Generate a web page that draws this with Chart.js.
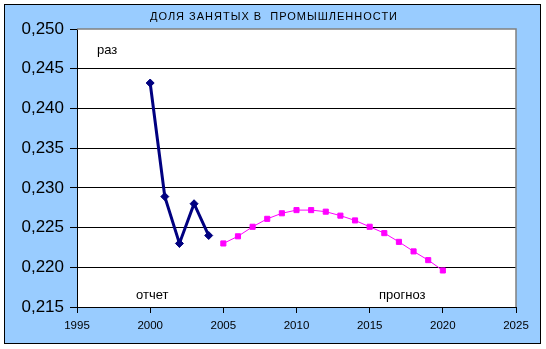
<!DOCTYPE html>
<html>
<head>
<meta charset="utf-8">
<script src="https://cdn.jsdelivr.net/npm/chart.js@4/dist/chart.umd.min.js"></script>
<style>
  body { margin: 0; background: #fff; }
  #chart { display: block; }
</style>
</head>
<body>
<canvas id="chart" width="546" height="349"></canvas>
<script>
// actual figures (отчет)
const reportYears = [2000, 2001, 2002, 2003, 2004];
const reportShare = [0.2432, 0.2289, 0.2230, 0.2280, 0.2240];

// forecast (прогноз)
const forecastYears = [2005, 2006, 2007, 2008, 2009, 2010, 2011, 2012, 2013, 2014, 2015, 2016, 2017, 2018, 2019, 2020];
const forecastShare = [0.2230, 0.2239, 0.2251, 0.2261, 0.2268, 0.2272, 0.2272, 0.2270, 0.2265, 0.2259, 0.2251, 0.2243, 0.2232, 0.2220, 0.2209, 0.2196];

const chartTitle = 'ДОЛЯ ЗАНЯТЫХ В  ПРОМЫШЛЕННОСТИ';
const notes = [
    { text: 'раз', x: 97, y: 50 },
    { text: 'отчет', x: 136, y: 295 },
    { text: 'прогноз', x: 379, y: 295 }
];

function toPoints(xs, ys) {
    return xs.map((x, i) => ({ x: x, y: ys[i] }));
}

const frame = {
    id: 'frame',
    beforeDraw(chart) {
        const c = chart.ctx;
        const a = chart.chartArea;
        c.save();
        c.fillStyle = '#fff';
        c.fillRect(0, 0, chart.width, chart.height);
        c.fillStyle = '#99CCFF';
        c.fillRect(4, 4, 536, 339);
        c.strokeStyle = '#000';
        c.lineWidth = 1;
        c.strokeRect(4.5, 4.5, 536, 339);
        c.fillStyle = '#fff';
        c.fillRect(a.left, a.top, a.right - a.left, a.bottom - a.top);
        c.restore();
    },
    afterDatasetsDraw(chart) {
        const c = chart.ctx;
        const a = chart.chartArea;
        c.save();
        c.strokeStyle = '#808080';
        c.lineWidth = 1.5;
        c.beginPath();
        c.moveTo(a.left, a.top);
        c.lineTo(a.right, a.top);
        c.lineTo(a.right, a.bottom);
        c.stroke();
        c.fillStyle = '#000';
        c.textBaseline = 'middle';
        // title, a bit letter-spaced like the original
        c.font = '11px "Liberation Sans", Arial, sans-serif';
        c.letterSpacing = '1px';
        c.textAlign = 'center';
        c.fillText(chartTitle, 274, 17);
        c.letterSpacing = '0px';
        c.font = '13px "Liberation Sans", Arial, sans-serif';
        c.textAlign = 'left';
        notes.forEach(n => c.fillText(n.text, n.x, n.y));
        c.restore();
    }
};

new Chart(document.getElementById('chart'), {
    type: 'line',
    data: {
        datasets: [{
            data: toPoints(reportYears, reportShare),
            borderColor: '#000080',
            backgroundColor: '#000080',
            borderWidth: 3,
            pointStyle: 'rectRot',
            pointRadius: 4,
            pointBorderWidth: 1,
            tension: 0
        }, {
            data: toPoints(forecastYears, forecastShare),
            borderColor: '#FF00FF',
            backgroundColor: '#FF00FF',
            borderWidth: 1,
            pointStyle: 'rect',
            pointRadius: 3.6,
            pointBorderWidth: 1,
            tension: 0
        }]
    },
    options: {
        responsive: false,
        animation: false,
        layout: { padding: { left: 0, top: 29, right: 30, bottom: 0 } },
        plugins: {
            legend: { display: false },
            tooltip: { enabled: false }
        },
        scales: {
            x: {
                type: 'linear',
                min: 1995,
                max: 2025,
                afterFit(s) { s.height = 42; },
                border: { color: '#000', width: 1 },
                grid: { drawOnChartArea: false, drawTicks: true, tickLength: 6, tickColor: '#000' },
                ticks: {
                    stepSize: 5,
                    color: '#000',
                    padding: 6,
                    maxRotation: 0,
                    font: { family: '"Liberation Sans", Arial, sans-serif', size: 11.5 },
                    callback: v => String(v)
                }
            },
            y: {
                min: 0.215,
                max: 0.25,
                afterFit(s) { s.width = 77; },
                border: { color: '#000', width: 1 },
                grid: {
                    color: ctx => ctx.tick && ctx.tick.value >= 0.2499 ? 'rgba(0,0,0,0)' : '#000',
                    tickColor: '#000',
                    tickLength: 7,
                    lineWidth: 1
                },
                ticks: {
                    stepSize: 0.005,
                    color: '#000',
                    padding: 6,
                    font: { family: '"Liberation Sans", Arial, sans-serif', size: 17 },
                    callback: v => v.toFixed(3).replace('.', ',')
                }
            }
        }
    },
    plugins: [frame]
});
</script>
</body>
</html>
